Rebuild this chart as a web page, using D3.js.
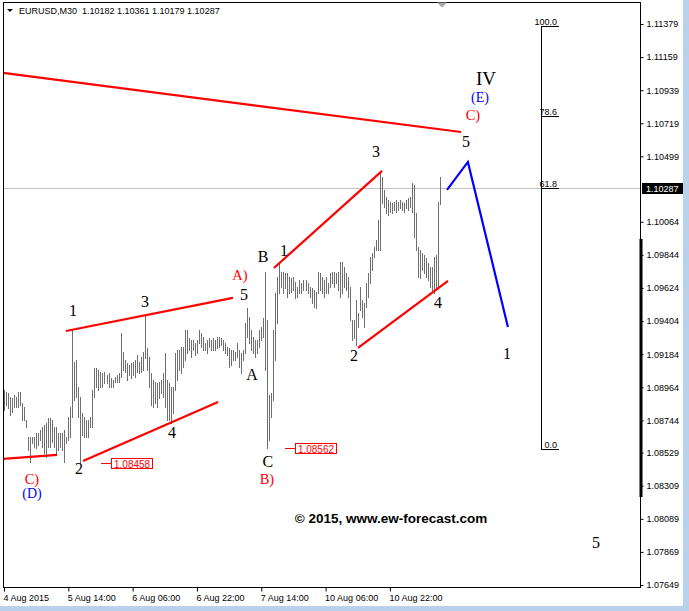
<!DOCTYPE html>
<html><head><meta charset="utf-8">
<script src="https://cdn.jsdelivr.net/npm/d3@7"></script>
<style>body{margin:0;background:#fff;overflow:hidden}svg{display:block}</style>
</head><body>
<svg id="c" width="689" height="611"></svg>
<script>
// ---------- DATA ----------
const symbolName = "EURUSD,M30";
const lastOHLC = [1.10182, 1.10361, 1.10179, 1.10287];

const barHigh = [
1.08946,1.08933,1.08926,1.08899,1.08893,1.08913,1.08899,1.08933,1.08933,1.08860,
1.08833,1.08746,1.08633,1.08633,1.08633,1.08633,1.08660,1.08660,1.08680,1.08700,
1.08713,1.08727,1.08760,1.08760,1.08746,1.08700,1.08700,1.08660,1.08660,1.08660,
1.08680,1.08633,1.08766,1.08833,1.09345,1.09132,1.09145,1.08966,1.08899,1.08793,
1.08766,1.08746,1.08746,1.08766,1.08946,1.09092,1.09092,1.09079,1.09066,1.09059,
1.09066,1.09046,1.09059,1.09026,1.09012,1.09032,1.09046,1.09059,1.09325,1.09199,
1.09145,1.09125,1.09112,1.09125,1.09132,1.09145,1.09179,1.09132,1.09165,1.09199,
1.09445,1.09225,1.09165,1.09059,1.09012,1.08999,1.08992,1.08999,1.09012,1.09059,
1.09192,1.09012,1.08992,1.08966,1.08966,1.09192,1.09212,1.09212,1.09232,1.09232,
1.09345,1.09345,1.09292,1.09278,1.09278,1.09258,1.09278,1.09345,1.09325,1.09298,
1.09258,1.09278,1.09292,1.09278,1.09292,1.09278,1.09298,1.09298,1.09292,1.09278,
1.09258,1.09232,1.09225,1.09212,1.09212,1.09199,1.09258,1.09212,1.09192,1.09212,
1.09391,1.09491,1.09431,1.09345,1.09298,1.09278,1.09278,1.09345,1.09365,1.09425,
1.09731,1.09411,1.08913,1.08926,1.09345,1.09591,1.09697,1.09790,1.09731,1.09731,
1.09724,1.09724,1.09697,1.09691,1.09697,1.09664,1.09631,1.09677,1.09657,1.09677,
1.09677,1.09657,1.09631,1.09624,1.09611,1.09598,1.09731,1.09724,1.09697,1.09677,
1.09697,1.09657,1.09724,1.09731,1.09731,1.09724,1.09731,1.09797,1.09797,1.09764,
1.09724,1.09697,1.09631,1.09411,1.09411,1.09544,1.09458,1.09631,1.09544,1.09524,
1.09657,1.09724,1.09830,1.09857,1.09897,1.09943,1.10076,1.10389,1.10362,1.10276,
1.10229,1.10209,1.10196,1.10189,1.10196,1.10209,1.10196,1.10209,1.10196,1.10189,
1.10209,1.10223,1.10229,1.10322,1.10309,1.10123,1.09897,1.09877,1.09857,1.09844,
1.09824,1.09790,1.09764,1.09764,1.09830,1.09844,1.10196,1.10361];

const barLow = [
1.08813,1.08846,1.08826,1.08780,1.08800,1.08833,1.08833,1.08833,1.08846,1.08746,
1.08746,1.08700,1.08547,1.08467,1.08594,1.08567,1.08560,1.08580,1.08613,1.08567,
1.08527,1.08500,1.08567,1.08567,1.08600,1.08567,1.08527,1.08547,1.08567,1.08547,
1.08467,1.08594,1.08613,1.08633,1.08766,1.08879,1.08899,1.08766,1.08458,1.08647,
1.08633,1.08633,1.08633,1.08700,1.08700,1.08899,1.08966,1.08946,1.08966,1.08966,
1.08992,1.08992,1.08966,1.08966,1.08966,1.08999,1.08999,1.08999,1.09032,1.09079,
1.09066,1.09012,1.09046,1.09026,1.09046,1.09032,1.09066,1.09059,1.09066,1.09079,
1.09159,1.09079,1.08966,1.08846,1.08833,1.08860,1.08833,1.08893,1.08926,1.08899,
1.08833,1.08746,1.08746,1.08727,1.08793,1.08946,1.09012,1.09079,1.09059,1.09099,
1.09145,1.09192,1.09212,1.09165,1.09212,1.09179,1.09192,1.09258,1.09232,1.09212,
1.09212,1.09192,1.09232,1.09212,1.09212,1.09212,1.09225,1.09232,1.09245,1.09212,
1.09192,1.09179,1.09099,1.09112,1.09145,1.09145,1.09165,1.09099,1.09059,1.09145,
1.09192,1.09298,1.09258,1.09212,1.09192,1.09165,1.09192,1.09232,1.09278,1.09298,
1.09079,1.08562,1.08613,1.08766,1.08879,1.09145,1.09391,1.09591,1.09631,1.09591,
1.09624,1.09564,1.09591,1.09598,1.09611,1.09558,1.09564,1.09591,1.09591,1.09611,
1.09611,1.09591,1.09564,1.09524,1.09498,1.09491,1.09591,1.09611,1.09591,1.09564,
1.09591,1.09591,1.09631,1.09657,1.09631,1.09657,1.09611,1.09564,1.09591,1.09631,
1.09611,1.09564,1.09411,1.09278,1.09292,1.09245,1.09365,1.09478,1.09431,1.09365,
1.09498,1.09564,1.09657,1.09744,1.09830,1.09877,1.09877,1.09877,1.10189,1.10163,
1.10123,1.10110,1.10129,1.10123,1.10143,1.10129,1.10143,1.10156,1.10143,1.10129,
1.10156,1.10143,1.10163,1.10129,1.09963,1.09877,1.09697,1.09691,1.09744,1.09724,
1.09697,1.09677,1.09631,1.09611,1.09591,1.09624,1.09631,1.10179];

const priceTicks = [1.11379,1.11159,1.10939,1.10719,1.10499,1.10064,1.09844,1.09624,
  1.09404,1.09184,1.08964,1.08744,1.08529,1.08309,1.08089,1.07869,1.07649];
const timeLabels = ["4 Aug 2015","5 Aug 14:00","6 Aug 06:00","6 Aug 22:00","7 Aug 14:00","10 Aug 06:00","10 Aug 22:00"];
const timeLabelBars = [0,32,64,96,128,160,192];

// trendlines: [barIndex, price] pairs
const redLines = [
  [[-0.5,1.11054],[227.4,1.10661]],
  [[-0.5,1.08487],[26.4,1.08514]],
  [[30.8,1.09338],[113.9,1.09558]],
  [[39.3,1.08474],[106.5,1.08866]],
  [[134.3,1.09757],[188.1,1.10402]],
  [[176.1,1.09225],[220.9,1.09671]]
];
const blueProjection = [[220.4,1.10276],[230.8,1.10462],[250.7,1.09365]];

// wave count labels
const waveText  = ["1","3","2","4","5","A)","A","B","1","C","B)","3","2","4","5","C)","(E)","IV","1","5","C)","(D)"];
const waveBar   = [34.3,70.1,37.3,83.6,119.4,117.4,123.4,128.9,139.3,131.3,130.8,185.1,174.1,215.9,229.9,233.3,236.8,239.8,250.2,294.5,13.9,13.9];
const wavePrice = [1.09471,1.09531,1.08421,1.08660,1.09578,1.09710,1.09046,1.09830,1.09870,1.08467,1.08354,1.10528,1.09172,1.09524,1.10595,1.10774,1.10887,1.11014,1.09185,1.07929,1.08355,1.08255];

// price marks (labelled lows)
const markBar   = [48.3,139.8];
const markPrice = [1.08458,1.08562];

// Fibonacci retracement
const fibLevels = [0,61.8,78.6,100];
const fibLowPrice = 1.08554, fibHighPrice = 1.11366;
const fibBar = 267.2, fibEndBar = 276.1;

const scaleBarTop = 1.09950, scaleBarBottom = 1.08234;
const copyright = "\u00a9 2015, www.ew-forecast.com";

// ---------- DRAW ----------
const svg = d3.select("#c");
const W = 689, H = 611;
const L = 3.5, R = 640.5, T = 2.5, B = 587.5;
const x = d3.scaleLinear().domain([0, barHigh.length-1]).range([4, 4 + (barHigh.length-1)*2.01]);
const y = d3.scaleLinear().domain([1.07649, 1.11379]).range([585, 24]);
const axisFont = "'Liberation Sans', Arial, sans-serif";
const serif = "'Liberation Serif', 'Times New Roman', serif";

svg.append("rect").attr("width",W).attr("height",H).attr("fill","#fff");
svg.append("rect").attr("x",683).attr("y",0).attr("width",6).attr("height",H).attr("fill","#b9d1ea");
svg.append("rect").attr("x",0).attr("y",606).attr("width",W).attr("height",5).attr("fill","#b9d1ea");

const plot = svg.append("g");
svg.append("clipPath").attr("id","pc").append("rect").attr("x",L).attr("y",T).attr("width",R-L).attr("height",B-T);

// current price line
plot.append("line").attr("x1",L).attr("x2",R)
  .attr("y1",Math.round(y(lastOHLC[3]))+0.5).attr("y2",Math.round(y(lastOHLC[3]))+0.5)
  .attr("stroke","#c0c0c0").attr("stroke-width",1);

// bars
plot.append("g").selectAll("line").data(barHigh).join("line")
  .attr("x1",(d,i)=>Math.round(x(i))+0.5).attr("x2",(d,i)=>Math.round(x(i))+0.5)
  .attr("y1",d=>Math.round(y(d))).attr("y2",(d,i)=>Math.round(y(barLow[i]))+1)
  .attr("stroke","#6e6e6e").attr("stroke-width",1);

// fib
const fibY = lv => y(fibLowPrice + (fibHighPrice-fibLowPrice)*lv/100);
const fg = plot.append("g");
fg.append("line").attr("x1",Math.round(x(fibBar))+0.5).attr("x2",Math.round(x(fibBar))+0.5)
  .attr("y1",Math.round(fibY(100))+0.5).attr("y2",Math.round(fibY(0))+0.5).attr("stroke","#000");
fibLevels.forEach(lv=>{
  const yy = Math.round(fibY(lv))+0.5;
  fg.append("line").attr("x1",Math.round(x(fibBar))).attr("x2",Math.round(x(fibEndBar)))
    .attr("y1",yy).attr("y2",yy).attr("stroke","#000");
  fg.append("text").attr("x",x(fibEndBar)-2).attr("y",yy-1.5).attr("text-anchor","end")
    .attr("font-family",axisFont).attr("font-size","9px").attr("fill","#000")
    .text(lv.toFixed(1));
});

// red trend lines
const lineGen = d3.line().x(d=>x(d[0])).y(d=>y(d[1]));
plot.append("g").attr("clip-path","url(#pc)").selectAll("path").data(redLines).join("path")
  .attr("d",lineGen).attr("stroke","#ff0000").attr("stroke-width",2.2).attr("fill","none");
plot.append("path").datum(blueProjection).attr("d",lineGen)
  .attr("stroke","#0000ff").attr("stroke-width",2.2).attr("fill","none");

// price marks
markBar.forEach((b,i)=>{
  const xx = x(b), yy = Math.round(y(markPrice[i]))+0.5;
  plot.append("line").attr("x1",xx).attr("x2",xx+10).attr("y1",yy).attr("y2",yy).attr("stroke","#ff0000");
  plot.append("rect").attr("x",Math.round(xx+10)+0.5).attr("y",yy-5).attr("width",41).attr("height",10)
    .attr("fill","#fff").attr("stroke","#ff0000");
  plot.append("text").attr("x",xx+31).attr("y",yy+0.5).attr("text-anchor","middle").attr("dominant-baseline","central")
    .attr("font-family",axisFont).attr("font-size","10px").attr("fill","#ff0000").text(markPrice[i].toFixed(5));
});

// wave labels
waveText.forEach((t,i)=>{
  let color = "#000", size = 16;
  if (/^\(/.test(t)) { color = "#0000ff"; size = 14; }
  else if (/\)$/.test(t)) { color = "#ff0000"; size = 14.5; }
  if (t === "IV") size = 19;
  plot.append("text").attr("x",x(waveBar[i])).attr("y",y(wavePrice[i]))
    .attr("text-anchor","middle").attr("dominant-baseline","central")
    .attr("font-family",serif).attr("font-size",size+"px").attr("fill",color).text(t);
});

// copyright
plot.append("text").attr("x",391).attr("y",518).attr("text-anchor","middle").attr("dominant-baseline","central")
  .attr("font-family",axisFont).attr("font-weight","bold").attr("font-size","13.5px").attr("fill","#000").text(copyright);

// frame
svg.append("rect").attr("x",L).attr("y",T).attr("width",R-L).attr("height",B-T)
  .attr("fill","none").attr("stroke","#000").attr("stroke-width",1);

// thick scale bar on right edge
svg.append("rect").attr("x",639.5).attr("y",y(scaleBarTop)).attr("width",3)
  .attr("height",y(scaleBarBottom)-y(scaleBarTop)).attr("fill","#000");

// shift marker triangle
svg.append("path").attr("d","M437,2.5 L447,2.5 L442,7.5 Z").attr("fill","#a8a8a8");

// right axis
const ay = svg.append("g").attr("transform",`translate(${R},0)`)
  .call(d3.axisRight(y).tickValues(priceTicks).tickSize(3).tickPadding(3).tickFormat(d3.format(".5f")));
ay.select(".domain").remove();
ay.selectAll("text").attr("font-family",axisFont).attr("font-size","9px").attr("fill","#000");
ay.selectAll("line").attr("stroke","#000");

// current price tag
const cy = y(lastOHLC[3]);
svg.append("rect").attr("x",642).attr("y",Math.round(cy)-5).attr("width",41).attr("height",11).attr("fill","#000");
svg.append("text").attr("x",646).attr("y",cy+0.5).attr("dominant-baseline","central")
  .attr("font-family",axisFont).attr("font-size","9px").attr("fill","#fff").text(lastOHLC[3].toFixed(5));

// bottom axis
const ax = svg.append("g").attr("transform",`translate(0,${B})`)
  .call(d3.axisBottom(x).tickValues(timeLabelBars).tickSize(4).tickPadding(3).tickFormat((d,i)=>timeLabels[i]));
ax.select(".domain").remove();
ax.selectAll("text").attr("text-anchor","start").attr("dx","-1")
  .attr("font-family",axisFont).attr("font-size","9px").attr("fill","#000");
ax.selectAll("line").attr("stroke","#000");

// header
svg.append("path").attr("d","M7,9 L13,9 L10,12 Z").attr("fill","#000");
svg.append("text").attr("x",19).attr("y",11).attr("dominant-baseline","central")
  .attr("font-family",axisFont).attr("font-size","9px").attr("fill","#000")
  .attr("xml:space","preserve").style("white-space","pre")
  .text(symbolName + "  " + lastOHLC.map(v=>v.toFixed(5)).join(" "));
</script>
</body></html>
